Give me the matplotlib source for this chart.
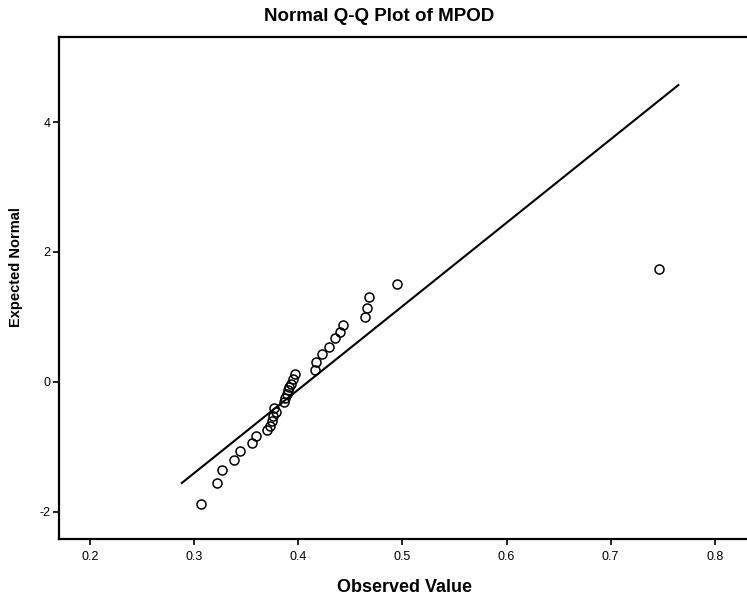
import matplotlib.pyplot as plt

observed = [0.306, 0.322, 0.327, 0.338, 0.344, 0.355, 0.359, 0.370, 0.373,
            0.375, 0.376, 0.378, 0.377, 0.386, 0.387, 0.389, 0.390, 0.391,
            0.393, 0.395, 0.397, 0.416, 0.417, 0.423, 0.429, 0.435, 0.440,
            0.443, 0.464, 0.466, 0.468, 0.495, 0.746]
expected = [-1.88, -1.56, -1.36, -1.21, -1.07, -0.95, -0.84, -0.75, -0.68,
            -0.60, -0.53, -0.46, -0.40, -0.32, -0.25, -0.19, -0.13, -0.08,
            -0.03, 0.04, 0.12, 0.18, 0.30, 0.43, 0.54, 0.67, 0.77,
            0.88, 1.00, 1.13, 1.30, 1.50, 1.73]

# reference line end points
line_x = [0.288, 0.765]
line_y = [-1.56, 4.57]

x_ticks = [0.2, 0.3, 0.4, 0.5, 0.6, 0.7, 0.8]
y_ticks = [-2, 0, 2, 4]


def main():
    plt.rcParams['font.family'] = ['Liberation Sans', 'DejaVu Sans']
    fig = plt.figure(figsize=(7.47, 5.98), dpi=100)
    ax = fig.add_axes([0.079, 0.099, 0.921, 0.839])

    ax.plot(line_x, line_y, color='black', linewidth=1.5)
    ax.plot(observed, expected, linestyle='none', marker='o', markersize=6.5,
            markerfacecolor='none', markeredgecolor='black', markeredgewidth=1.1)

    ax.set_xlim(0.170, 0.831)
    ax.set_ylim(-2.42, 5.31)
    ax.set_xticks(x_ticks)
    ax.set_xticklabels(["{:.1f}".format(v) for v in x_ticks])
    ax.set_yticks(y_ticks)
    ax.set_yticklabels([str(v) for v in y_ticks])
    ax.tick_params(direction='out', length=4, width=1.2, labelsize=9, pad=2)
    ax.tick_params(axis='x', pad=5)

    for side in ['top', 'left', 'bottom']:
        ax.spines[side].set_linewidth(1.6)
    ax.spines['right'].set_visible(False)

    fig.text(0.507, 0.972, "Normal Q-Q Plot of MPOD", ha='center', va='center',
             fontsize=13.5, fontweight='bold')
    fig.text(0.541, 0.018, "Observed Value", ha='center', va='center',
             fontsize=13, fontweight='bold')
    fig.text(0.022, 0.553, "Expected Normal", ha='center', va='center',
             rotation=90, fontsize=10.5, fontweight='bold')

    plt.savefig("out.png", dpi=100)


if __name__ == "__main__":
    main()
